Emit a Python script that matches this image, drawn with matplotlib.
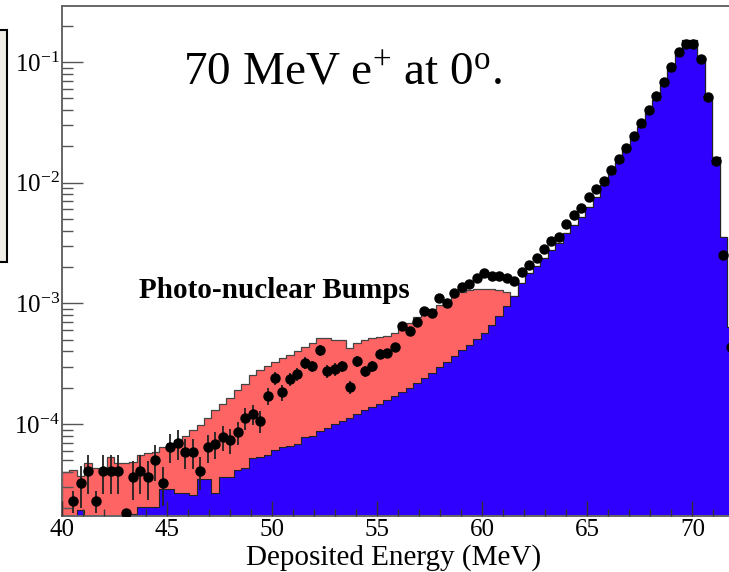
import numpy as np
import matplotlib
matplotlib.use("Agg")
import matplotlib.pyplot as plt
from matplotlib.patches import Rectangle
from matplotlib.ticker import MultipleLocator, LogLocator, NullFormatter, FixedLocator

plt.rcParams['font.family'] = ['Liberation Serif', 'DejaVu Serif']
plt.rcParams['mathtext.fontset'] = 'custom'
plt.rcParams['mathtext.rm'] = 'Liberation Serif'
plt.rcParams['mathtext.it'] = 'Liberation Serif:italic'
plt.rcParams['mathtext.bf'] = 'Liberation Serif:bold'

# ---------------- data ----------------
e_min = 40.0
bin_width = 0.3556

# electromagnetic-only simulation (blue)
blue = [0, 0, 1.94e-5, 0, 0, 0, 0, 0, 1.80e-5, 1.80e-5,
        2.06e-5, 2.06e-5, 2.06e-5, 2.90e-5, 2.90e-5, 2.69e-5, 2.69e-5, 2.59e-5, 3.51e-5, 3.51e-5,
        2.69e-5, 3.65e-5, 3.65e-5, 4.17e-5, 4.33e-5, 5.24e-5, 5.36e-5, 5.55e-5, 6.10e-5, 6.46e-5,
        6.58e-5, 6.84e-5, 7.82e-5, 7.97e-5, 8.77e-5, 9.28e-5, 1.00e-4, 1.061e-4, 1.123e-4, 1.213e-4,
        1.309e-4, 1.386e-4, 1.467e-4, 1.584e-4, 1.709e-4, 1.845e-4, 1.991e-4, 2.19e-4, 2.41e-4, 2.65e-4,
        2.97e-4, 3.27e-4, 3.67e-4, 4.11e-4, 4.52e-4, 5.07e-4, 5.69e-4, 6.62e-4, 7.86e-4, 9.52e-4,
        1.151e-3, 1.476e-3, 1.786e-3, 2.04e-3, 2.38e-3, 2.77e-3, 3.17e-3, 3.83e-3, 4.46e-3, 5.20e-3,
        6.29e-3, 7.61e-3, 9.57e-3, 1.181e-2, 1.484e-2, 1.866e-2, 2.35e-2, 2.89e-2, 3.78e-2, 4.84e-2,
        6.45e-2, 8.59e-2, 0.1143, 0.152, 0.152, 0.110, 5.13e-2, 1.633e-2, 3.55e-3, 6.37e-4]

# simulation including photo-nuclear processes (red), low-energy part
total_low = [4.01e-5, 4.17e-5, 3.72e-5, 4.76e-5, 4.33e-5, 4.17e-5, 5.34e-5, 4.76e-5, 4.76e-5, 4.85e-5,
             5.55e-5, 5.76e-5, 5.87e-5, 6.46e-5, 6.97e-5, 7.38e-5, 7.97e-5, 8.94e-5, 9.83e-5, 1.123e-4,
             1.309e-4, 1.467e-4, 1.645e-4, 1.917e-4, 2.15e-4, 2.55e-4, 2.81e-4, 3.03e-4, 3.27e-4, 3.53e-4,
             3.74e-4, 4.03e-4, 4.35e-4, 4.70e-4, 5.17e-4, 5.17e-4, 4.97e-4, 4.97e-4, 4.27e-4, 4.70e-4,
             4.97e-4, 5.17e-4, 5.27e-4, 5.37e-4, 5.69e-4, 6.25e-4, 6.88e-4, 7.71e-4, 8.49e-4, 8.99e-4,
             9.70e-4, 1.027e-3, 1.151e-3, 1.243e-3, 1.291e-3, 1.32e-3, 1.32e-3, 1.32e-3, 1.291e-3, 1.243e-3,
             1.151e-3]

# measured data points
data = [np.nan, 2.31e-5, 3.25e-5, 4.09e-5, 2.31e-5, 4.09e-5, 4.09e-5, 4.09e-5, 1.83e-5, 3.65e-5,
        4.09e-5, 3.65e-5, 5.04e-5, 3.25e-5, 6.46e-5, 6.97e-5, 5.87e-5, 5.87e-5, 4.09e-5, 6.46e-5,
        6.84e-5, 7.82e-5, 7.38e-5, 8.60e-5, 1.123e-4, 1.213e-4, 1.061e-4, 1.709e-4, 2.41e-4, 1.845e-4,
        2.36e-4, 2.60e-4, 3.21e-4, 3.03e-4, 4.11e-4, 2.75e-4, 2.86e-4, 3.03e-4, 2.03e-4, 3.33e-4,
        2.75e-4, 3.03e-4, 3.81e-4, 3.88e-4, 4.35e-4, 6.50e-4, 5.90e-4, 7.01e-4, 8.65e-4, 8.33e-4,
        1.108e-3, 1.0e-3, 1.22e-3, 1.367e-3, 1.447e-3, 1.623e-3, 1.786e-3, 1.687e-3, 1.687e-3, 1.623e-3,
        1.533e-3, 1.82e-3, 2.08e-3, 2.38e-3, 2.82e-3, 3.29e-3, 3.55e-3, 4.55e-3, 5.40e-3, 6.17e-3,
        7.61e-3, 8.87e-3, 1.033e-2, 1.274e-2, 1.572e-2, 1.939e-2, 2.44e-2, 3.12e-2, 4.00e-2, 5.23e-2,
        6.83e-2, 9.09e-2, 0.121, 0.141, 0.141, 0.106, 5.13e-2, 1.512e-2, 2.52e-3, 4.35e-4]

# relative statistical errors of the data points
rel_err = [0, 0.2, 0.38, 0.36, 0.2, 0.36, 0.36, 0.36, 0.0, 0.36,
           0.36, 0.36, 0.33, 0.36, 0.27, 0.27, 0.28, 0.28, 0.3, 0.26,
           0.25, 0.24, 0.24, 0.22, 0.2, 0.19, 0.2, 0.16, 0.13, 0.15,
           0.13, 0.12, 0.11, 0.11, 0.1, 0.12, 0.12, 0.11, 0.13, 0.1,
           0.11, 0.1, 0.09, 0.09, 0.08, 0.07, 0.07, 0.06, 0.05, 0.05,
           0.04, 0.04, 0.04, 0.03, 0.03, 0.03, 0.03, 0.03, 0.03, 0.03,
           0.02, 0.02, 0.02, 0.02, 0.02, 0.02, 0.02, 0.02, 0.02, 0.02,
           0.01, 0.01, 0.01, 0.01, 0.01, 0.01, 0.01, 0.01, 0.01, 0.01,
           0.01, 0.01, 0.01, 0.01, 0.01, 0.01, 0.01, 0.01, 0.01, 0.01]

x_major = [40, 45, 50, 55, 60, 65, 70]
title_text = r"70 MeV e$^{+}$ at 0$^{\mathrm{o}}$."
annot_text = "Photo-nuclear Bumps"
xlabel_text = "Deposited Energy (MeV)"

# ---------------- plot ----------------
blue_a = np.array(blue, dtype=float)
total_a = np.concatenate([np.array(total_low), blue_a[len(total_low):]])
data_a = np.array(data, dtype=float)
err_a = data_a * np.array(rel_err)
n = len(blue_a)
edges = e_min + bin_width * np.arange(n + 1)
centers = 0.5 * (edges[:-1] + edges[1:])

W, H = 729, 572
fig = plt.figure(figsize=(W / 100, H / 100), dpi=100)
ax = fig.add_axes([62 / W, 1 - 516 / H, (W - 62) / W + 0.002, (516 - 6) / H])
ax.set_yscale('log')
ax.set_xlim(40, 40 + (W - 62) / 20.97)
ax.set_ylim(1.732e-5, 0.291)

floor = 1e-8
red_c = '#FF6464'
blue_c = '#3000FF'
ax.stairs(np.clip(total_a, floor, None), edges, fill=True, color=red_c, baseline=floor, zorder=1)
ax.stairs(np.clip(total_a, floor, None), edges, fill=False, color='#444444', lw=0.9, baseline=floor, zorder=1.1)
ax.stairs(np.clip(blue_a, floor, None), edges, fill=True, color=blue_c, baseline=floor, zorder=1.2)
ax.stairs(np.clip(blue_a, floor, None), edges, fill=False, color='#222222', lw=0.8, baseline=floor, zorder=1.3)

ax.errorbar(centers, data_a, yerr=err_a, fmt='o', color='black', ms=6.5,
            elinewidth=1.3, ecolor='#222222', capsize=0, zorder=3)

# axes styling
for s in ['left', 'top', 'bottom']:
    ax.spines[s].set_color('#666666')
    ax.spines[s].set_linewidth(1.4)
ax.spines['right'].set_visible(False)

ax.xaxis.set_major_locator(FixedLocator(x_major))
ax.xaxis.set_minor_locator(MultipleLocator(1))
ax.yaxis.set_major_locator(LogLocator(base=10, numticks=10))
ax.yaxis.set_minor_locator(LogLocator(base=10, subs=np.arange(2, 10), numticks=20))
ax.yaxis.set_minor_formatter(NullFormatter())

ax.tick_params(axis='x', which='major', direction='in', length=10.8, width=1.0, color='#333333',
               labelsize=18, pad=2, top=False)
ax.tick_params(axis='x', which='minor', direction='in', length=5.0, width=1.0, color='#333333', top=False)
ax.tick_params(axis='y', which='major', direction='in', length=15, width=1.0, color='#555555',
               labelsize=18, pad=1.5, right=False)
ax.tick_params(axis='y', which='minor', direction='in', length=8, width=1.0, color='#555555', right=False)
ax.set_axisbelow(False)

fig.text(183 / W, 1 - 85 / H, title_text, fontsize=34, va='baseline', ha='left',
         family='Liberation Serif')
fig.text(139 / W, 1 - 298 / H, annot_text, fontsize=21, fontweight='bold', va='baseline', ha='left',
         family='Liberation Serif')
fig.text(394 / W, 1 - 565 / H, xlabel_text, fontsize=21, va='baseline', ha='center',
         family='Liberation Serif')

# partially visible legend box of the neighbouring panel
fig.patches.append(Rectangle((-10 / W, 1 - 262 / H), 17 / W, 232 / H, transform=fig.transFigure,
                             facecolor='#EFEDE6', edgecolor='black', lw=1.5))

fig.savefig('out.png', dpi=100)
